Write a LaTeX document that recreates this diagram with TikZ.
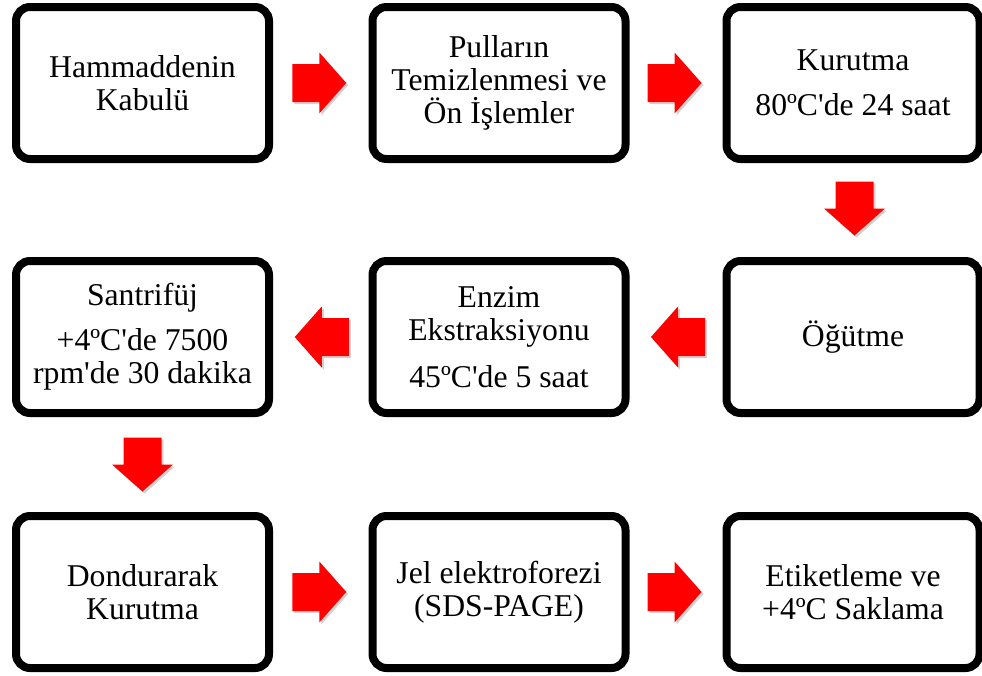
\documentclass[tikz,border=0pt]{standalone}
\usepackage{fontspec}
\setmainfont{Liberation Serif}[Ligatures=TeXOff]
\usetikzlibrary{calc,shadows}
\tikzset{
  stepbox/.style={draw=black, line width=8pt, fill=white, rounded corners=14pt,
    minimum width=253pt, minimum height=152pt, align=center, inner sep=0pt,
    font=\fontsize{31.7}{33}\selectfont,
    drop shadow={shadow xshift=2pt, shadow yshift=-3pt, opacity=0.22, fill=black}},
  redarrow/.style={fill=red, draw=none,
    drop shadow={shadow xshift=2pt, shadow yshift=-2pt, opacity=0.18, fill=black}}
}
\newcommand\blockarrow[2]{%
  \path[redarrow, shift={#1}, rotate=#2]
    (-27pt,-19pt) -- (0pt,-19pt) -- (0pt,-30.5pt) -- (27pt,0pt) -- (0pt,30.5pt)
    -- (0pt,19pt) -- (-27pt,19pt) -- cycle;}
\begin{document}
\begin{tikzpicture}[x=1pt,y=-1pt]
\useasboundingbox (0,0) rectangle (982,675);
\node[stepbox] (a1) at (142.5,83) {Hammaddenin\\Kabulü};
\node[stepbox] (a2) at (499,83) {Pulların\\Temizlenmesi ve\\Ön İşlemler};
\node[stepbox] (a3) at (853,83) {Kurutma\\[12pt]80ºC'de 24 saat};
\node[stepbox] (b3) at (853,337) {Öğütme};
\node[stepbox] (b2) at (499,337) {Enzim\\Ekstraksiyonu\\[14pt]45ºC'de 5 saat};
\node[stepbox] (b1) at (142.5,337) {Santrifüj\\[12pt]+4ºC'de 7500\\rpm'de 30 dakika};
\node[stepbox] (c1) at (142.5,592) {Dondurarak\\Kurutma};
\node[stepbox] (c2) at (499,592) {Jel elektroforezi\\(SDS-PAGE)};
\node[stepbox] (c3) at (853,592) {Etiketleme ve\\+4ºC Saklama};
\blockarrow{($(a1.east)!0.5!(a2.west)+(-1.5,0)$)}{0}
\blockarrow{($(a2.east)!0.5!(a3.west)+(-1.5,0)$)}{0}
\blockarrow{($(a3.south)!0.5!(b3.north)+(1.5,-1.5)$)}{-90}
\blockarrow{($(b3.west)!0.5!(b2.east)+(2,0)$)}{180}
\blockarrow{($(b2.west)!0.5!(b1.east)+(1,0)$)}{180}
\blockarrow{($(b1.south)!0.5!(c1.north)$)}{-90}
\blockarrow{($(c1.east)!0.5!(c2.west)+(-1.5,0)$)}{0}
\blockarrow{($(c2.east)!0.5!(c3.west)+(-1.5,0)$)}{0}
\end{tikzpicture}
\end{document}
